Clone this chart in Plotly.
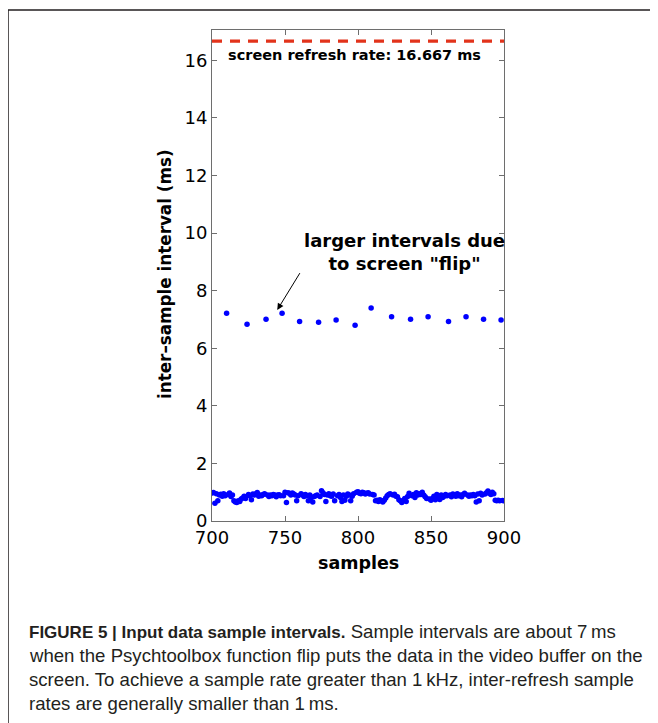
import plotly.graph_objects as go

# ---- data ----
sample_start = 700
intervals = [
    0.97, 0.99, 0.62, 0.95, 0.70, 0.90, 0.93, 0.86, 0.95, 0.88,
    7.21, 0.92, 0.97, 0.85, 0.90, 0.70, 0.66, 0.64, 0.70, 0.68,
    0.76, 0.80, 0.86, 0.78, 6.83, 0.92, 0.88, 0.74, 0.94, 0.90,
    0.95, 0.99, 0.86, 0.90, 0.88, 0.92, 0.95, 7.01, 0.90, 0.85,
    0.90, 0.88, 0.92, 0.90, 0.84, 0.90, 0.91, 0.88, 7.21, 0.88,
    1.00, 0.64, 0.98, 0.96, 0.90, 0.97, 0.94, 0.90, 0.70, 0.88,
    6.93, 0.95, 0.90, 0.85, 0.92, 0.88, 0.70, 0.90, 0.82, 0.66,
    0.85, 0.88, 0.90, 6.90, 0.85, 1.05, 0.98, 0.92, 0.68, 0.90,
    0.95, 0.88, 0.86, 0.94, 0.70, 6.98, 0.88, 0.92, 0.82, 0.68,
    0.90, 0.72, 0.86, 0.94, 0.90, 0.70, 0.86, 0.95, 6.80, 1.00,
    1.02, 0.96, 0.95, 1.00, 0.98, 0.94, 0.96, 0.98, 0.94, 7.40,
    0.92, 0.90, 0.70, 0.72, 0.68, 0.74, 0.70, 0.66, 0.72, 0.80,
    0.88, 0.92, 0.95, 7.09, 0.90, 0.93, 0.86, 0.84, 0.74, 0.70,
    0.64, 0.70, 0.78, 0.68, 0.85, 0.96, 7.01, 0.88, 0.92, 0.82,
    0.98, 0.90, 0.95, 0.92, 1.00, 0.90, 0.84, 0.78, 7.09, 0.76,
    0.72, 0.78, 0.86, 0.74, 0.92, 0.80, 0.75, 0.90, 0.82, 0.86,
    0.92, 0.88, 6.93, 0.90, 0.84, 0.94, 0.90, 0.86, 0.95, 0.88,
    0.90, 0.84, 0.92, 0.96, 7.09, 0.90, 0.86, 0.90, 0.88, 0.92,
    0.88, 0.66, 0.94, 0.70, 0.96, 0.90, 7.01, 0.94, 0.98, 1.04,
    0.96, 0.92, 1.00, 0.95, 0.72, 0.70, 0.72, 0.70, 6.98, 0.71,
    0.70,
]
samples = [sample_start + i for i in range(len(intervals))]
refresh_rate = 16.667
x_ticks = [700, 750, 800, 850, 900]
y_ticks = [0, 2, 4, 6, 8, 10, 12, 14, 16]

caption_lines = [
    "<span style=\"font-size:17px\"><b>FIGURE 5 | Input data sample intervals.</b></span>"
    " Sample intervals are about 7\u2009ms",
    "when the Psychtoolbox function flip puts the data in the video buffer on the",
    "screen. To achieve a sample rate greater than 1\u2009kHz, inter-refresh sample",
    "rates are generally smaller than 1\u2009ms.",
]

OFF = 8  # page body margin
W, H = 658 - OFF, 723 - OFF
# plot area in page pixels
PL, PR, PT, PB = 212, 504, 30, 521
L, R, T, B = PL - OFF, PR - OFF, PT - OFF, PB - OFF


def px(x):
    return (x - OFF - L) / (R - L)


def py(y):
    return (B - (y - OFF)) / (B - T)


fig = go.Figure()
fig.add_trace(go.Scatter(
    x=[x_ticks[0], x_ticks[-1]], y=[refresh_rate, refresh_rate], mode="lines",
    line=dict(color="#e2331b", width=3.2, dash="10px,8px"), hoverinfo="skip",
    showlegend=False,
))
fig.add_trace(go.Scatter(
    x=samples, y=intervals, mode="markers",
    marker=dict(color="#0000ff", size=5.5), showlegend=False,
))

axis_common = dict(
    showline=True, linecolor="#6e6e6e", linewidth=1, mirror="ticks",
    ticks="inside", ticklen=5, tickcolor="#6e6e6e", showgrid=False,
    zeroline=False, tickfont=dict(family="DejaVu Sans", size=18, color="black"),
)
fig.update_xaxes(range=[700, 900], tickvals=x_ticks, ticklabelstandoff=0, **axis_common)
fig.update_yaxes(range=[0, 17.05], tickvals=y_ticks, **axis_common)

annotations = [
    dict(x=px(358), y=py(563), xref="paper", yref="paper", xanchor="center",
         yanchor="middle", text="<b>samples</b>", showarrow=False,
         font=dict(family="DejaVu Sans", size=17.5, color="black")),
    dict(x=px(165), y=py(274), xref="paper", yref="paper", xanchor="center",
         yanchor="middle", text="<b>inter\u2013sample interval (ms)</b>", textangle=-90,
         showarrow=False, font=dict(family="DejaVu Sans", size=16.8, color="black")),
    dict(x=px(226), y=py(55), xref="paper", yref="paper", xanchor="left",
         yanchor="middle", text="<b>screen refresh rate: 16.667 ms</b>", showarrow=False,
         font=dict(family="DejaVu Sans", size=14.5, color="black")),
    dict(x=px(404), y=py(252), xref="paper", yref="paper", xanchor="center",
         yanchor="middle", text="<b>larger intervals due<br>to screen \"flip\"</b>",
         showarrow=False, font=dict(family="DejaVu Sans", size=18, color="black")),
    dict(x=744.7, y=7.33, ax=760.8, ay=8.66, xref="x", yref="y", axref="x", ayref="y",
         text="", showarrow=True, arrowhead=2, arrowsize=1.3, arrowwidth=1,
         arrowcolor="black"),
]
for i, line in enumerate(caption_lines):
    annotations.append(dict(
        x=px(27), y=py(631 + 24 * i), xref="paper", yref="paper", xanchor="left",
        yanchor="middle", text=line, showarrow=False, align="left",
        font=dict(family="Liberation Sans", size=18.6, color="#231f20"),
    ))

fig.update_layout(
    width=W, height=H,
    margin=dict(l=L, r=W - R, t=T, b=H - B, pad=0),
    paper_bgcolor="white", plot_bgcolor="white",
    annotations=annotations,
    shapes=[dict(type="rect", xref="paper", yref="paper",
                 x0=px(8), x1=px(700), y0=py(10), y1=py(760),
                 line=dict(color="#231f20", width=1.5))],
)

fig.write_html("out.html")
